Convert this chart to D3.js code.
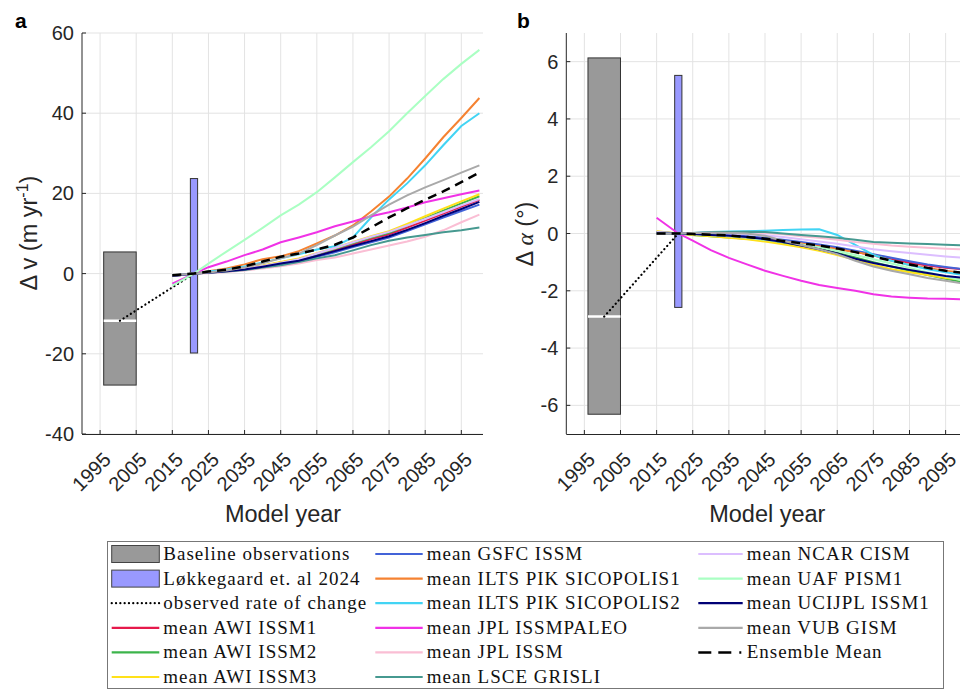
<!DOCTYPE html>
<html>
<head>
<meta charset="utf-8">
<script src="https://cdn.jsdelivr.net/npm/d3@7"></script>
<style>
    body { margin: 0; background: #fff; }
    svg { display: block; }
</style>
</head>
<body>
<div id="chart"></div>
<script>
const years = [2015, 2021, 2025, 2030, 2035, 2040, 2045, 2050, 2055, 2060, 2065, 2070, 2075, 2080, 2085, 2090, 2095, 2100];

const modelNames = [
    "mean AWI ISSM1", "mean AWI ISSM2", "mean AWI ISSM3", "mean GSFC ISSM",
    "mean ILTS PIK SICOPOLIS1", "mean ILTS PIK SICOPOLIS2", "mean JPL ISSMPALEO",
    "mean JPL ISSM", "mean LSCE GRISLI", "mean NCAR CISM", "mean UAF PISM1",
    "mean UCIJPL ISSM1", "mean VUB GISM"
];
const modelColors = [
    "#e6194b", "#3cb44b", "#ffe119", "#4363d8", "#f58231", "#42d4f4", "#f032e6",
    "#fabed4", "#469990", "#dcbeff", "#aaffc3", "#000075", "#a9a9a9"
];

// panel a: change in velocity (m/yr), one row per model
const dvSeries = [
    [-0.6, 0, 0.3, 0.7, 1.2, 1.9, 2.6, 3.4, 4.6, 5.8, 7.2, 8.6, 9.8, 11.5, 13.2, 15.0, 16.7, 18.4],
    [-0.6, 0, 0.3, 0.7, 1.2, 1.9, 2.8, 3.6, 4.9, 6.2, 7.6, 9.0, 10.2, 12.0, 13.8, 15.7, 17.5, 19.3],
    [-0.6, 0, 0.3, 0.8, 1.3, 2.0, 2.9, 3.8, 5.1, 6.4, 7.9, 9.3, 10.6, 12.4, 14.3, 16.2, 18.0, 19.8],
    [-0.6, 0, 0.2, 0.6, 1.0, 1.6, 2.3, 3.0, 4.2, 5.3, 6.6, 7.8, 9.0, 10.6, 12.3, 14.0, 15.6, 17.2],
    [-0.5, 0, 0.6, 1.3, 2.3, 3.6, 4.3, 5.6, 7.5, 9.5, 12.0, 15.5, 19.2, 23.7, 28.7, 34.0, 38.8, 43.8],
    [-0.5, 0, 0.5, 1.0, 1.8, 2.8, 3.8, 4.8, 6.0, 6.8, 9.0, 14.0, 18.5, 22.5, 27.0, 32.0, 36.8, 40.0],
    [-2.5, 0, 1.6, 3.0, 4.6, 6.0, 7.8, 9.0, 10.3, 11.8, 13.0, 14.3, 15.3, 16.5, 17.8, 18.8, 19.8, 20.7],
    [-0.6, 0, 0.1, 0.4, 0.8, 1.3, 1.8, 2.5, 3.4, 4.0, 5.0, 6.0, 7.0, 8.0, 9.2, 10.8, 12.8, 14.7],
    [-0.6, 0, 0.2, 0.5, 0.9, 1.5, 2.1, 2.9, 3.8, 4.6, 5.8, 7.1, 8.2, 9.0, 9.6, 10.3, 10.8, 11.5],
    [-0.6, 0, 0.3, 0.7, 1.2, 1.9, 2.7, 3.6, 5.0, 6.4, 7.8, 9.2, 10.4, 12.0, 13.6, 15.3, 17.0, 18.6],
    [-3.0, 0, 2.5, 5.5, 8.4, 11.4, 14.5, 17.2, 20.3, 24.0, 27.8, 31.5, 35.5, 40.0, 44.3, 48.5, 52.3, 55.8],
    [-0.6, 0, 0.2, 0.6, 1.0, 1.7, 2.5, 3.2, 4.4, 5.6, 6.9, 8.1, 9.3, 10.9, 12.6, 14.4, 16.1, 17.9],
    [-0.5, 0, 0.3, 0.8, 1.5, 2.6, 3.8, 5.0, 7.1, 9.5, 11.7, 14.5, 17.2, 19.5, 21.5, 23.3, 25.2, 27.0]
];
const dvEnsemble = [-0.4, 0, 0.5, 1.0, 1.8, 3.0, 4.2, 5.0, 6.0, 7.2, 9.0, 11.5, 14.0, 16.3, 18.4, 20.5, 22.8, 25.2];

// panel b: change in angle (degrees)
const daSeries = [
    [0.05, 0, 0.0, -0.03, -0.07, -0.12, -0.18, -0.26, -0.34, -0.42, -0.52, -0.64, -0.77, -0.9, -1.02, -1.12, -1.2, -1.25],
    [0.05, 0, -0.05, -0.1, -0.14, -0.18, -0.24, -0.32, -0.42, -0.54, -0.68, -0.84, -1.0, -1.15, -1.3, -1.45, -1.58, -1.7],
    [0.08, 0, -0.05, -0.1, -0.15, -0.2, -0.28, -0.38, -0.48, -0.6, -0.75, -0.92, -1.1, -1.25, -1.35, -1.45, -1.55, -1.62],
    [0.02, 0, 0.0, -0.02, -0.05, -0.1, -0.15, -0.22, -0.3, -0.38, -0.48, -0.6, -0.72, -0.85, -0.97, -1.08, -1.17, -1.25],
    [0.0, 0, -0.02, -0.05, -0.1, -0.15, -0.2, -0.28, -0.35, -0.45, -0.55, -0.65, -0.75, -0.95, -1.1, -1.2, -1.3, -1.38],
    [0.0, 0, 0.02, 0.05, 0.07, 0.08, 0.1, 0.12, 0.14, 0.15, -0.05, -0.4, -0.75, -0.95, -1.1, -1.25, -1.35, -1.45],
    [0.55, 0.0, -0.25, -0.58, -0.85, -1.08, -1.3, -1.48, -1.65, -1.8, -1.9, -2.0, -2.12, -2.2, -2.24, -2.27, -2.28, -2.3],
    [0.05, 0, 0.02, 0.03, 0.04, 0.04, 0.02, -0.03, -0.1, -0.15, -0.22, -0.3, -0.36, -0.42, -0.46, -0.5, -0.53, -0.56],
    [0.05, 0, 0.02, 0.04, 0.05, 0.06, 0.05, 0.0, -0.05, -0.1, -0.15, -0.22, -0.3, -0.32, -0.35, -0.37, -0.39, -0.42],
    [0.05, 0, 0.01, 0.02, 0.0, -0.02, -0.06, -0.12, -0.2, -0.28, -0.36, -0.45, -0.55, -0.62, -0.68, -0.74, -0.8, -0.85],
    [0.0, 0, -0.03, -0.06, -0.1, -0.15, -0.22, -0.3, -0.38, -0.48, -0.6, -0.75, -0.9, -1.05, -1.2, -1.35, -1.5, -1.65],
    [0.0, 0, -0.02, -0.05, -0.08, -0.12, -0.2, -0.3, -0.42, -0.55, -0.7, -0.88, -1.03, -1.15, -1.27, -1.38, -1.48, -1.55],
    [-0.02, 0, 0.02, 0.03, 0.02, 0.0, -0.08, -0.25, -0.4, -0.55, -0.72, -0.95, -1.15, -1.3, -1.42, -1.55, -1.65, -1.75]
];
const daEnsemble = [0.0, 0, -0.02, -0.04, -0.07, -0.12, -0.18, -0.26, -0.34, -0.42, -0.52, -0.65, -0.8, -0.95, -1.08, -1.2, -1.3, -1.38];

// observations
const baselineYears = [1996, 2005];
const baselineV = [-27.8, 5.4];
const baselineVMean = -11.75;
const baselineA = [-6.31, 6.13];
const baselineAMean = -2.9;
const lokkeYears = [2020, 2022];
const lokkeV = [-19.8, 23.7];
const lokkeA = [-2.58, 5.52];
const obsRateYears = [2000.5, 2021];
const obsRateV = [-11.75, 0];
const obsRateA = [-2.9, 0];

const xTickYears = [1995, 2005, 2015, 2025, 2035, 2045, 2055, 2065, 2075, 2085, 2095];
const vTicks = [-40, -20, 0, 20, 40, 60];
const aTicks = [-6, -4, -2, 0, 2, 4, 6];

const width = 960, height = 691;
const axisColor = "#262626";
const sans = "'Liberation Sans', Arial, sans-serif";
const serif = "'Liberation Serif', 'Times New Roman', serif";

const svg = d3.select("#chart").append("svg")
    .attr("width", width)
    .attr("height", height)
    .style("font-family", sans);

function drawPanel(opts) {
    const top = 33, bottom = 434, plotW = 401;
    const x = d3.scaleLinear().domain([1990, 2101]).range([opts.left, opts.left + plotW]);
    const y = d3.scaleLinear().domain(opts.yDomain).range([bottom, top]);
    const g = svg.append("g");

    // grid
    g.selectAll(".vgrid").data(xTickYears).join("line")
        .attr("x1", d => x(d)).attr("x2", d => x(d))
        .attr("y1", top).attr("y2", bottom)
        .attr("stroke", "#e3e3e3").attr("stroke-width", 1);
    g.selectAll(".hgrid").data(opts.yTicks).join("line")
        .attr("x1", opts.left).attr("x2", opts.left + plotW)
        .attr("y1", d => y(d)).attr("y2", d => y(d))
        .attr("stroke", "#e3e3e3").attr("stroke-width", 1);

    // baseline box + mean
    g.append("rect")
        .attr("x", x(baselineYears[0]))
        .attr("y", y(opts.baseline[1]))
        .attr("width", x(baselineYears[1]) - x(baselineYears[0]))
        .attr("height", y(opts.baseline[0]) - y(opts.baseline[1]))
        .attr("fill", "#999999")
        .attr("stroke", "#333").attr("stroke-width", 1);
    g.append("line")
        .attr("x1", x(baselineYears[0])).attr("x2", x(baselineYears[1]))
        .attr("y1", y(opts.baselineMean)).attr("y2", y(opts.baselineMean))
        .attr("stroke", "#fff").attr("stroke-width", 2.5);

    // Løkkegaard bar
    g.append("rect")
        .attr("x", x(lokkeYears[0]))
        .attr("y", y(opts.lokke[1]))
        .attr("width", x(lokkeYears[1]) - x(lokkeYears[0]))
        .attr("height", y(opts.lokke[0]) - y(opts.lokke[1]))
        .attr("fill", "#9999ff")
        .attr("stroke", "#333").attr("stroke-width", 1);

    // observed rate of change
    g.append("line")
        .attr("x1", x(obsRateYears[0])).attr("x2", x(obsRateYears[1]))
        .attr("y1", y(opts.obsRate[0])).attr("y2", y(opts.obsRate[1]))
        .attr("stroke", "#000").attr("stroke-width", 2.2)
        .attr("stroke-linecap", "round")
        .attr("stroke-dasharray", "0.1,4.2");

    const line = d3.line()
        .x((d, i) => x(years[i]))
        .y(d => y(d));

    opts.series.forEach((s, i) => {
        g.append("path")
            .attr("d", line(s))
            .attr("fill", "none")
            .attr("stroke", modelColors[i])
            .attr("stroke-width", 2);
    });
    g.append("path")
        .attr("d", line(opts.ensemble))
        .attr("fill", "none")
        .attr("stroke", "#000")
        .attr("stroke-width", 2.5)
        .attr("stroke-dasharray", "9,6");

    // axes
    g.append("line")
        .attr("x1", opts.left).attr("x2", opts.left)
        .attr("y1", top).attr("y2", bottom)
        .attr("stroke", axisColor);
    g.append("line")
        .attr("x1", opts.left).attr("x2", opts.left + plotW)
        .attr("y1", bottom + 0.5).attr("y2", bottom + 0.5)
        .attr("stroke", axisColor);

    g.selectAll(".xtick").data(xTickYears).join("line")
        .attr("x1", d => x(d)).attr("x2", d => x(d))
        .attr("y1", bottom).attr("y2", bottom - 4)
        .attr("stroke", axisColor);
    g.selectAll(".ytick").data(opts.yTicks).join("line")
        .attr("x1", opts.left).attr("x2", opts.left + 4)
        .attr("y1", d => y(d)).attr("y2", d => y(d))
        .attr("stroke", axisColor);

    g.selectAll(".xlab").data(xTickYears).join("text")
        .attr("transform", d => `translate(${x(d) + 12},${bottom + 27}) rotate(-45)`)
        .attr("text-anchor", "end")
        .attr("fill", axisColor)
        .style("font-size", "20px")
        .text(d => d);
    g.selectAll(".ylab").data(opts.yTicks).join("text")
        .attr("x", opts.left - 8)
        .attr("y", d => y(d))
        .attr("dy", "0.35em")
        .attr("text-anchor", "end")
        .attr("fill", axisColor)
        .style("font-size", "20px")
        .text(d => d);

    g.append("text")
        .attr("x", opts.left + 201)
        .attr("y", 522)
        .attr("text-anchor", "middle")
        .attr("fill", axisColor)
        .style("font-size", "23.5px")
        .text("Model year");

    g.append("text")
        .attr("x", opts.letterX)
        .attr("y", 28)
        .style("font-size", "21px")
        .style("font-weight", "700")
        .text(opts.letter);

    return g;
}

const ga = drawPanel({
    left: 82, yDomain: [-40, 60], yTicks: vTicks,
    baseline: baselineV, baselineMean: baselineVMean,
    lokke: lokkeV, obsRate: obsRateV,
    series: dvSeries, ensemble: dvEnsemble,
    letter: "a", letterX: 15
});
const ylabA = ga.append("text")
    .attr("transform", "translate(37,233) rotate(-90)")
    .attr("text-anchor", "middle")
    .attr("fill", axisColor)
    .style("font-size", "23.5px");
ylabA.append("tspan").text("Δ v (m yr");
ylabA.append("tspan").attr("dy", -9).style("font-size", "16px").text("-1");
ylabA.append("tspan").attr("dy", 9).text(")");

const gb = drawPanel({
    left: 566.3, yDomain: [-7, 7], yTicks: aTicks,
    baseline: baselineA, baselineMean: baselineAMean,
    lokke: lokkeA, obsRate: obsRateA,
    series: daSeries, ensemble: daEnsemble,
    letter: "b", letterX: 517
});
const ylabB = gb.append("text")
    .attr("transform", "translate(533,234) rotate(-90)")
    .attr("text-anchor", "middle")
    .attr("fill", axisColor)
    .style("font-size", "23.5px");
ylabB.append("tspan").text("Δ ");
ylabB.append("tspan").style("font-style", "italic").style("font-family", serif).text("α");
ylabB.append("tspan").text(" (°)");

// -------
// Legend
// -------
const legend = svg.append("g");
legend.append("rect")
    .attr("x", 107.5).attr("y", 541.5)
    .attr("width", 836).attr("height", 147)
    .attr("fill", "#fff")
    .attr("stroke", "#777").attr("stroke-width", 1);

const legendItems = [
    { label: "Baseline observations", kind: "box", color: "#999999" },
    { label: "Løkkegaard et. al 2024", kind: "box", color: "#9999ff" },
    { label: "observed rate of change", kind: "dot", color: "#000" }
];
modelNames.forEach((n, i) => legendItems.push({ label: n, kind: "line", color: modelColors[i] }));
legendItems.push({ label: "Ensemble Mean", kind: "dash", color: "#000" });

const colX = [111.7, 375.3, 698.3];
const swatchW = [47.6, 47.4, 44.4];
const rowY0 = 554, rowStep = 24.6;

legendItems.forEach((item, i) => {
    const col = Math.floor(i / 6), row = i % 6;
    const sx = colX[col], cy = rowY0 + row * rowStep, sw = swatchW[col];
    if (item.kind === "box") {
        legend.append("rect")
            .attr("x", sx).attr("y", cy - 8.5)
            .attr("width", sw).attr("height", 17)
            .attr("fill", item.color)
            .attr("stroke", "#444").attr("stroke-width", 1);
    } else {
        const l = legend.append("line")
            .attr("x1", sx).attr("x2", sx + sw)
            .attr("y1", cy).attr("y2", cy)
            .attr("stroke", item.color);
        if (item.kind === "line") l.attr("stroke-width", 2.2);
        if (item.kind === "dot") l.attr("stroke-width", 2.2).attr("stroke-linecap", "round").attr("stroke-dasharray", "0.1,4.2");
        if (item.kind === "dash") l.attr("stroke-width", 2.5).attr("stroke-dasharray", "13,7,13,8,2");
    }
    legend.append("text")
        .attr("x", sx + sw + 4)
        .attr("y", cy + 6)
        .style("font-family", serif)
        .style("font-size", "19px")
        .style("letter-spacing", "1px")
        .attr("fill", "#111")
        .text(item.label);
});
</script>
</body>
</html>
